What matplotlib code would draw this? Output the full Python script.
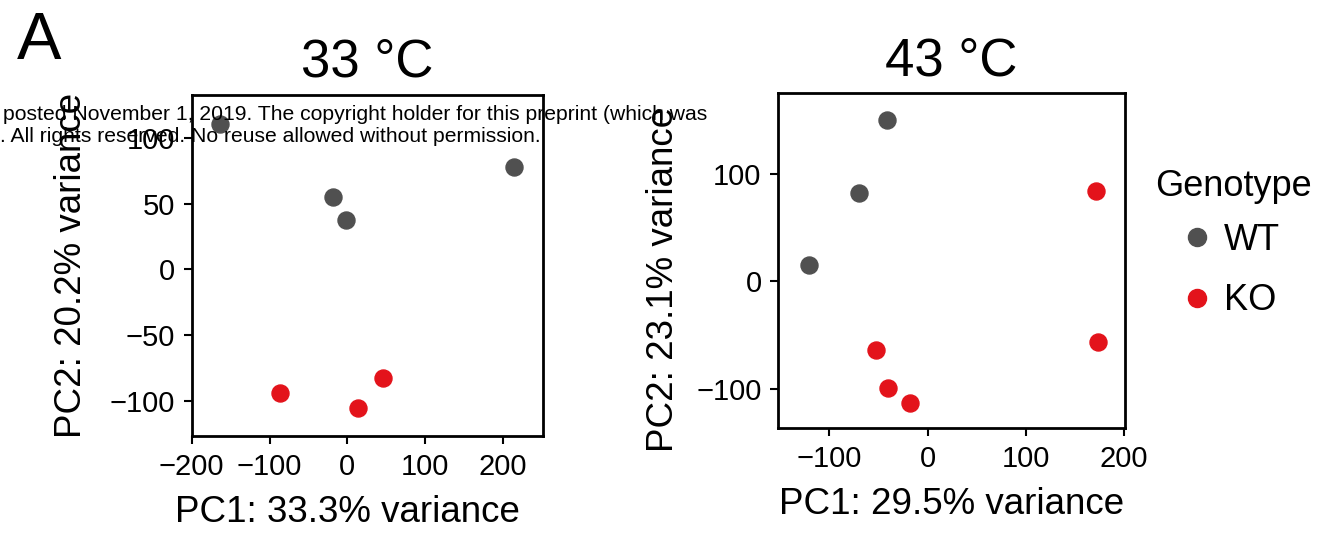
import numpy as np
import matplotlib.pyplot as plt
from matplotlib.lines import Line2D

plt.rcParams['font.family'] = ['Liberation Sans', 'DejaVu Sans']

# 33 C panel
pc1_33_wt = [-163, -19, -2, 214]
pc2_33_wt = [111, 55, 38, 78]
pc1_33_ko = [-87, 14, 46]
pc2_33_ko = [-94, -106, -83]

# 43 C panel
pc1_43_wt = [-41, -70, -121]
pc2_43_wt = [150, 82, 15]
pc1_43_ko = [171, 173, -52, -40, -18]
pc2_43_ko = [84, -57, -64, -99, -113]

wt_col = '#505050'
ko_col = '#e3131b'

fig = plt.figure(figsize=(13.22, 5.36), dpi=100)

ax1 = fig.add_axes([0.145, 0.1866, 0.2655, 0.6362])
ax2 = fig.add_axes([0.5887, 0.2009, 0.2623, 0.625])

def style(ax, xt, yt, xlim, ylim, xlab, ylab, title, ylpad):
    ax.set_xlim(*xlim)
    ax.set_ylim(*ylim)
    ax.set_xticks(xt)
    ax.set_yticks(yt)
    ax.tick_params(direction='out', length=6, width=1.5, labelsize=21, pad=6, colors='black')
    for sp in ax.spines.values():
        sp.set_linewidth(2)
    ax.set_xlabel(xlab, fontsize=26.5, labelpad=10)
    ax.set_ylabel(ylab, fontsize=26.5, labelpad=ylpad)
    ax.set_title(title, fontsize=38, pad=13)

ax1.scatter(pc1_33_wt, pc2_33_wt, s=150, color=wt_col, zorder=3)
ax1.scatter(pc1_33_ko, pc2_33_ko, s=150, color=ko_col, zorder=3)
style(ax1, [-200, -100, 0, 100, 200], [-100, -50, 0, 50, 100], (-200, 251), (-127, 133),
      'PC1: 33.3% variance', 'PC2: 20.2% variance', '33 °C', 15)
ax1.xaxis.label.set_x(0.444)

ax2.scatter(pc1_43_wt, pc2_43_wt, s=150, color=wt_col, zorder=3)
ax2.scatter(pc1_43_ko, pc2_43_ko, s=150, color=ko_col, zorder=3)
style(ax2, [-100, 0, 100, 200], [-100, 0, 100], (-152, 201), (-137, 175),
      'PC1: 29.5% variance', 'PC2: 23.1% variance', '43 °C', 11)
ax2.yaxis.label.set_y(0.445)

# legend: title drawn separately so its gap to the keys can match
handles = [Line2D([], [], marker='o', linestyle='', color=wt_col, markersize=13),
           Line2D([], [], marker='o', linestyle='', color=ko_col, markersize=13)]
leg = fig.legend(handles, ['WT', 'KO'], loc='center left',
                 bbox_to_anchor=(1143/1322, 1-270.5/536), frameon=False, fontsize=26,
                 handletextpad=0.15, labelspacing=0.72, handlelength=1.2)
fig.text(1233/1322, 1-187/536, 'Genotype', fontsize=26, ha='center', va='center')

fig.text(39/1322, 1-42/536, 'A', fontsize=48, ha='center', va='center')

fig.text(707/1322, 1-115/536,
         'posted November 1, 2019. The copyright holder for this preprint (which was',
         fontsize=15.2, ha='right', va='center')
fig.text(541/1322, 1-137/536,
         '. All rights reserved. No reuse allowed without permission.',
         fontsize=15.2, ha='right', va='center')

fig.savefig('out.png', dpi=100)
